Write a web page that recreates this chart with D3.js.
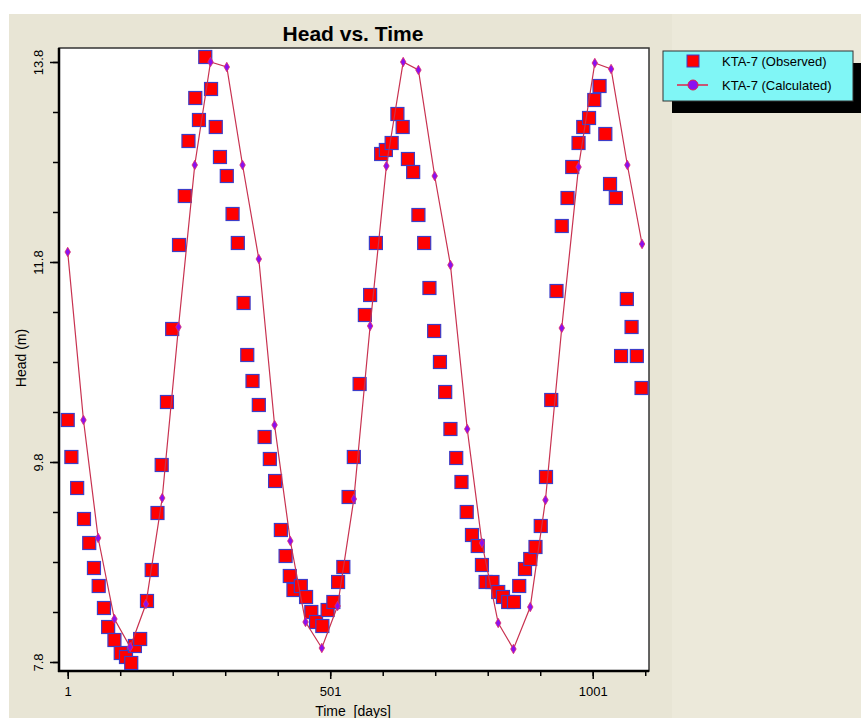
<!DOCTYPE html>
<html>
<head>
<meta charset="utf-8">
<script src="https://cdn.jsdelivr.net/npm/d3@7"></script>
<style>
  html, body { margin: 0; padding: 0; background: #ffffff; }
  svg { display: block; font-family: "Liberation Sans", Arial, sans-serif; }
</style>
</head>
<body>
<svg id="chart" width="861" height="718"></svg>
<script>
// ---------------- data ----------------
const chartTitle = "Head vs. Time";
const xLabel = "Time  [days]";
const yLabel = "Head (m)";
const seriesNames = ["KTA-7 (Observed)", "KTA-7 (Calculated)"];

const xMajorTicks = [1, 501, 1001];
const xMinorTicks = [1, 101, 201, 301, 401, 501, 601, 701, 801, 901, 1001, 1101];
const yMajorTicks = [7.8, 9.8, 11.8, 13.8];
const yMinorTicks = [7.8, 8.3, 8.8, 9.3, 9.8, 10.3, 10.8, 11.3, 11.8, 12.3, 12.8, 13.3, 13.8];

const obsDays = [1, 8, 19, 32, 42, 51, 60, 70, 78, 90, 102, 112, 122, 129, 139, 152, 161, 172, 180,
  190, 200, 213, 224, 231, 244, 251, 263, 274, 283, 291, 304, 315, 325, 336, 343, 353, 365, 376, 386,
  396, 407, 416, 424, 431, 445, 455, 465, 474, 486, 496, 507, 516, 526, 536, 546, 557, 567, 577, 588,
  598, 607, 618, 629, 639, 649, 659, 669, 680, 690, 699, 710, 720, 730, 741, 751, 761, 771, 782, 790,
  797, 810, 821, 830, 840, 851, 861, 872, 882, 892, 902, 912, 922, 932, 942, 953, 962, 974, 983, 994,
  1004, 1014, 1025, 1034, 1045, 1055, 1066, 1075, 1085, 1094];
const obsHead = [10.22, 9.85, 9.54, 9.23, 8.99, 8.74, 8.56, 8.34, 8.15, 8.02, 7.89, 7.85, 7.79, 7.96, 8.03, 8.41, 8.72, 9.29, 9.77,
  10.40, 11.13, 11.97, 12.46, 13.01, 13.44, 13.22, 13.85, 13.53, 13.15, 12.85, 12.66, 12.28, 11.99, 11.39, 10.87, 10.61, 10.37, 10.05, 9.83,
  9.61, 9.12, 8.86, 8.66, 8.52, 8.56, 8.45, 8.30, 8.20, 8.16, 8.32, 8.40, 8.60, 8.75, 9.45, 9.85, 10.58, 11.27, 11.47, 11.99,
  12.88, 12.92, 12.99, 13.28, 13.15, 12.83, 12.70, 12.27, 11.99, 11.54, 11.11, 10.80, 10.50, 10.13, 9.84, 9.60, 9.30, 9.07, 8.96, 8.77,
  8.60, 8.60, 8.50, 8.45, 8.40, 8.40, 8.56, 8.73, 8.83, 8.95, 9.16, 9.65, 10.42, 11.51, 12.16, 12.44, 12.75, 12.99, 13.15, 13.24,
  13.42, 13.56, 13.08, 12.58, 12.44, 10.86, 11.43, 11.15, 10.86, 10.54];

const calcDays = [1, 31, 59, 90, 120, 150, 181, 212, 243, 273, 304, 334, 365, 395, 425, 454, 485, 515,
  546, 577, 608, 640, 669, 700, 730, 762, 790, 821, 850, 882, 911, 942, 974, 1005, 1036, 1067, 1095];
const calcHead = [11.90, 10.22, 9.04, 8.23, 7.95, 8.38, 9.44, 11.15, 12.77, 13.80, 13.75, 12.77, 11.83, 10.17, 9.01, 8.20, 7.94, 8.36,
  9.43, 11.16, 12.76, 13.80, 13.72, 12.66, 11.77, 10.13, 8.99, 8.19, 7.93, 8.35, 9.42, 11.14, 12.75, 13.79, 13.73, 12.77, 11.98];

// ---------------- layout ----------------
const svg = d3.select("#chart");
const W = 861, H = 718;
const plot = { left: 59, right: 649, top: 48, bottom: 671 };

const x = d3.scaleLinear().domain([-15.6, 1108.2]).range([plot.left, plot.right]);
const y = d3.scaleLinear().domain([7.71, 13.94]).range([plot.bottom, plot.top]);

// backgrounds
svg.append("rect").attr("x", 0).attr("y", 0).attr("width", W).attr("height", H).attr("fill", "#ffffff");
svg.append("rect").attr("x", 9).attr("y", 14).attr("width", W - 9).attr("height", H - 14).attr("fill", "#ECE9DA");
svg.append("rect").attr("x", 9).attr("y", 14).attr("width", 663).attr("height", H - 14).attr("fill", "#E8E5D5");

// plot area
svg.append("rect")
  .attr("x", plot.left).attr("y", plot.top)
  .attr("width", plot.right - plot.left).attr("height", plot.bottom - plot.top)
  .attr("fill", "#ffffff").attr("stroke", "#333333").attr("stroke-width", 1.5);

// title
svg.append("text")
  .attr("x", 353).attr("y", 41)
  .attr("text-anchor", "middle")
  .attr("font-size", 21).attr("font-weight", "bold").attr("fill", "#000")
  .text(chartTitle);

// ---------------- axes ----------------
const gx = svg.append("g").attr("transform", `translate(0,${plot.bottom})`);
gx.append("g").call(d3.axisBottom(x).tickValues(xMinorTicks).tickSize(5).tickSizeOuter(0).tickFormat(""))
  .call(g => g.select(".domain").remove());
gx.append("g").call(d3.axisBottom(x).tickValues(xMajorTicks).tickSize(8).tickSizeOuter(0).tickPadding(8).tickFormat(d3.format("d")))
  .call(g => g.select(".domain").remove())
  .call(g => g.selectAll("text").attr("font-size", 13).attr("fill", "#000").attr("font-family", "Liberation Sans, Arial, sans-serif"));
gx.selectAll("line").attr("stroke", "#000").attr("stroke-width", 1.5);

const gy = svg.append("g").attr("transform", `translate(${plot.left},0)`);
gy.append("g").call(d3.axisLeft(y).tickValues(yMinorTicks).tickSize(6).tickSizeOuter(0).tickFormat(""))
  .call(g => g.select(".domain").remove());
gy.append("g").call(d3.axisLeft(y).tickValues(yMajorTicks).tickSize(9).tickSizeOuter(0).tickFormat(d3.format(".1f")))
  .call(g => g.select(".domain").remove())
  .call(g => g.selectAll("text")
    .attr("x", null).attr("dy", null)
    .attr("transform", "translate(-21,0) rotate(-90)")
    .attr("text-anchor", "middle").attr("dy", "0.35em")
    .attr("font-size", 13).attr("fill", "#000").attr("font-family", "Liberation Sans, Arial, sans-serif"));
gy.selectAll("line").attr("stroke", "#000").attr("stroke-width", 1.5);

// thick axis lines
svg.append("line").attr("x1", plot.left).attr("x2", plot.left).attr("y1", plot.top).attr("y2", plot.bottom + 1)
  .attr("stroke", "#000").attr("stroke-width", 2.5);
svg.append("line").attr("x1", plot.left - 1).attr("x2", plot.right).attr("y1", plot.bottom).attr("y2", plot.bottom)
  .attr("stroke", "#000").attr("stroke-width", 2.5);

// axis labels
svg.append("text")
  .attr("transform", `translate(26,358) rotate(-90)`)
  .attr("text-anchor", "middle")
  .attr("font-size", 14).attr("fill", "#000")
  .text(yLabel);
svg.append("text")
  .attr("x", 353).attr("y", 716)
  .attr("text-anchor", "middle")
  .attr("font-size", 14).attr("fill", "#000")
  .style("white-space", "pre")
  .attr("xml:space", "preserve")
  .text(xLabel);

// ---------------- marks ----------------
svg.append("clipPath").attr("id", "plotclip").append("rect")
  .attr("x", plot.left).attr("y", plot.top).attr("width", plot.right - plot.left).attr("height", plot.bottom - plot.top);
const gMarks = svg.append("g").attr("clip-path", "url(#plotclip)");

const obs = obsDays.map((d, i) => ({ day: d, head: obsHead[i] }));
const calc = calcDays.map((d, i) => ({ day: d, head: calcHead[i] }));

const sq = 13;
gMarks.selectAll("rect.obs").data(obs).join("rect")
  .attr("class", "obs")
  .attr("x", d => x(d.day) - sq / 2).attr("y", d => y(d.head) - sq / 2)
  .attr("width", sq).attr("height", sq)
  .attr("fill", "#FF0000").attr("stroke", "#3D3DC8").attr("stroke-width", 1.2);

const line = d3.line().x(d => x(d.day)).y(d => y(d.head)).curve(d3.curveLinear);
gMarks.append("path").datum(calc)
  .attr("d", line).attr("fill", "none")
  .attr("stroke", "#C83250").attr("stroke-width", 1.2);

gMarks.selectAll("path.calc").data(calc).join("path")
  .attr("class", "calc")
  .attr("d", d3.symbol().type(d3.symbolDiamond).size(26))
  .attr("transform", d => `translate(${x(d.day)},${y(d.head)})`)
  .attr("fill", "#8A10F0").attr("stroke", "#E0306A").attr("stroke-width", 0.8);

// ---------------- legend ----------------
const lg = svg.append("g");
lg.append("rect").attr("x", 672).attr("y", 63).attr("width", 192).attr("height", 50).attr("fill", "#000");
lg.append("rect").attr("x", 663).attr("y", 51).attr("width", 190).attr("height", 50)
  .attr("fill", "#80F6F6").attr("stroke", "#333").attr("stroke-width", 1);
lg.append("rect").attr("x", 687).attr("y", 55).attr("width", 12).attr("height", 12)
  .attr("fill", "#FF0000").attr("stroke", "#3D3DC8").attr("stroke-width", 1);
lg.append("line").attr("x1", 677).attr("x2", 708).attr("y1", 85).attr("y2", 85)
  .attr("stroke", "#E0204A").attr("stroke-width", 1.5);
lg.append("circle").attr("cx", 693).attr("cy", 85).attr("r", 5)
  .attr("fill", "#8A10F0").attr("stroke", "#E0204A").attr("stroke-width", 1);
lg.selectAll("text.lt").data(seriesNames).join("text")
  .attr("class", "lt")
  .attr("x", 722).attr("y", (d, i) => 61 + i * 24).attr("dy", "0.35em")
  .attr("font-size", 13).attr("fill", "#000")
  .text(d => d);
</script>
</body>
</html>
